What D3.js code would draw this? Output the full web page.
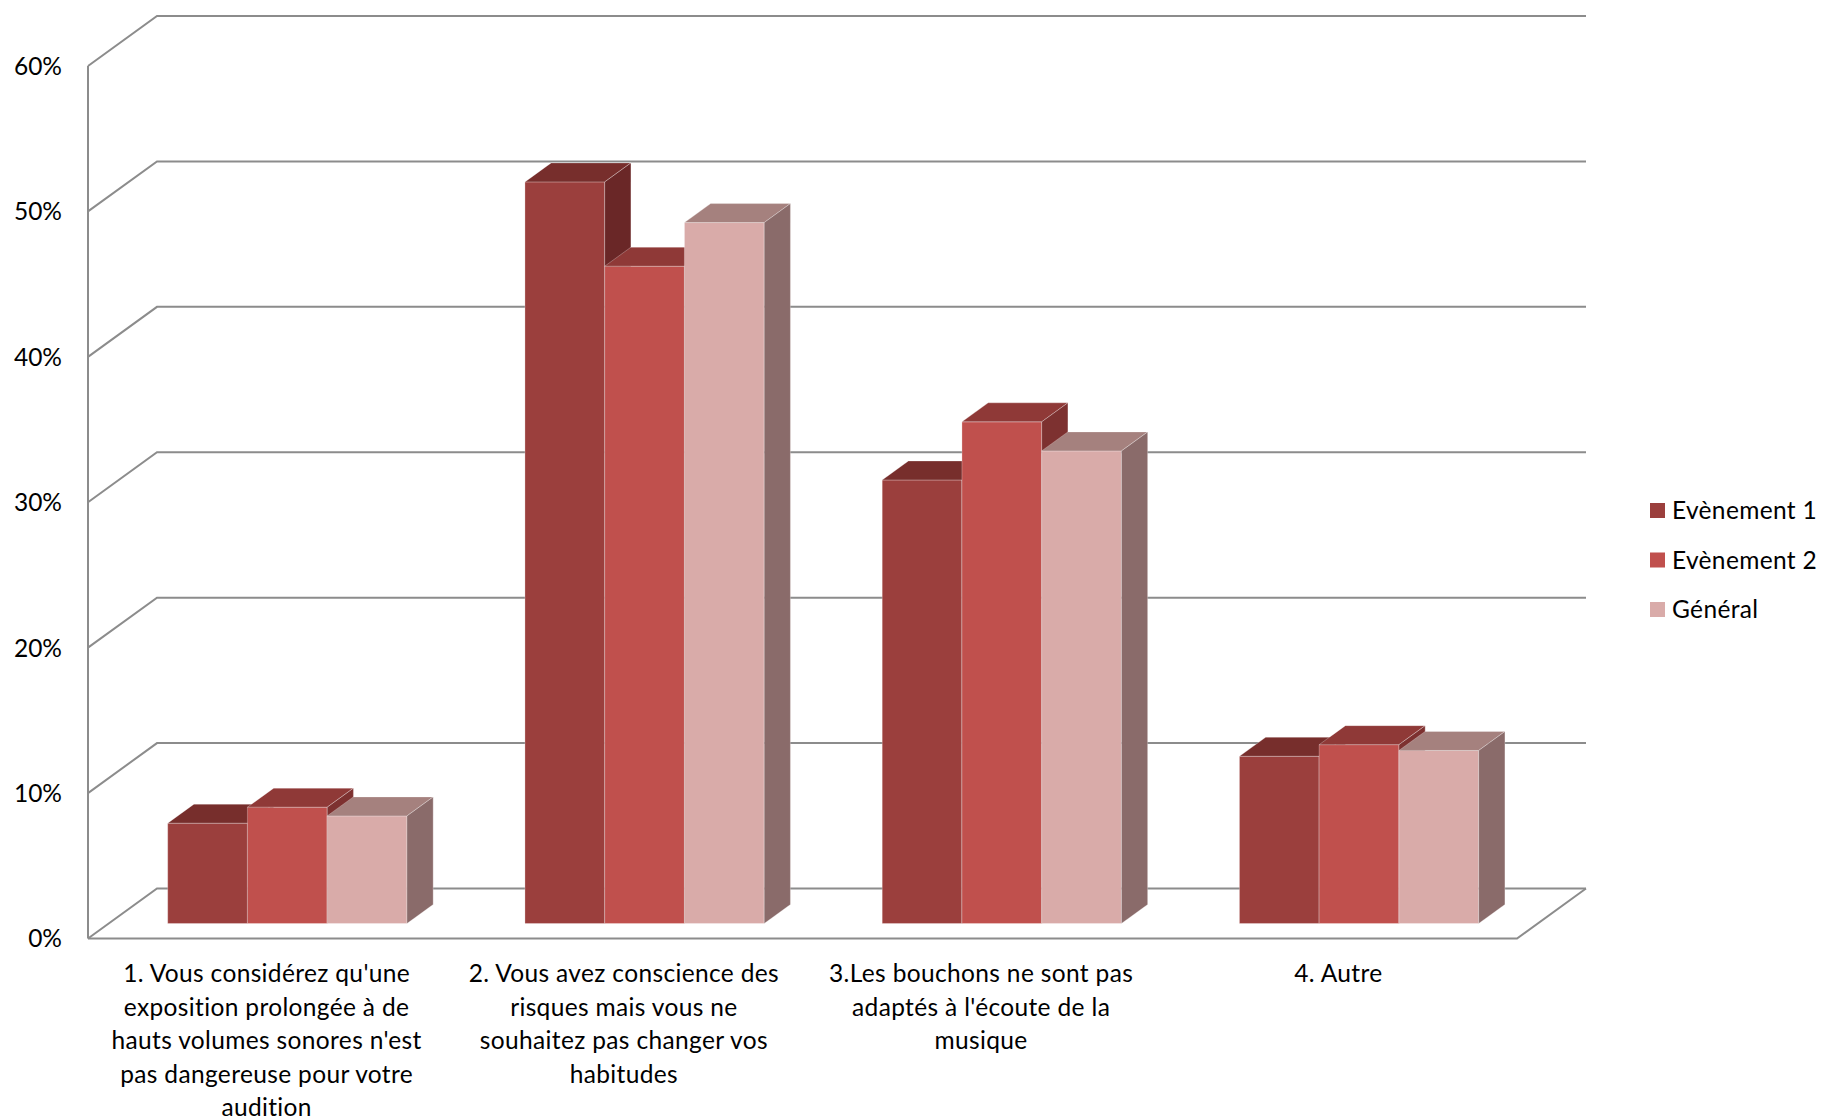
<!DOCTYPE html>
<html>
<head>
<meta charset="utf-8">
<script src="https://cdn.jsdelivr.net/npm/d3@7"></script>
<style>
  html, body { margin: 0; padding: 0; background: #fff; }
  svg { display: block; font-family: Lato, "Open Sans", sans-serif; }
</style>
</head>
<body>
<svg id="chart" width="1823" height="1120"></svg>
<script>
// Survey answers: share of respondents per reason, for each event and overall
const categories = ["c1", "c2", "c3", "c4"];
const categoryLabels = [
  ["1. Vous considérez qu'une", "exposition prolongée à de", "hauts volumes sonores n'est", "pas dangereuse pour votre", "audition"],
  ["2. Vous avez conscience des", "risques mais vous ne", "souhaitez pas changer vos", "habitudes"],
  ["3.Les bouchons ne sont pas", "adaptés à l'écoute de la", "musique"],
  ["4. Autre"]
];
const seriesNames = ["Evènement 1", "Evènement 2", "Général"];
const evenement1 = [0.069, 0.510, 0.305, 0.115];
const evenement2 = [0.080, 0.452, 0.345, 0.123];
const general    = [0.074, 0.482, 0.325, 0.119];
const yTicks = [0, 0.1, 0.2, 0.3, 0.4, 0.5, 0.6];

const seriesValues = [evenement1, evenement2, general];
const faceColors = [
  { front: "#9B3F3D", top: "#772E2C", side: "#6A2727" },
  { front: "#C0504D", top: "#8F3937", side: "#7D3130" },
  { front: "#D9ABA9", top: "#A5817E", side: "#8A6B6A" }
];

const fontSize = 24.5;
const letterSpacing = 0.35;

const svg = d3.select("#chart");

// Front plane of the 3D box and its depth offset
const plotLeft = 88, plotRight = 1517, plotTop = 66, plotBottom = 938.5;
const DX = 69, DY = -50;
const barFront = 0.30, barBack = 0.68;

const y = d3.scaleLinear().domain([0, 0.6]).range([plotBottom, plotTop]);
const x0 = d3.scaleBand().domain(categories).range([plotLeft, plotRight]).padding(0);
const groupGap = 118;
const x1 = d3.scaleBand().domain(seriesNames)
  .range([groupGap / 2, x0.bandwidth() - groupGap / 2]).padding(0);

const gridColor = "#8C8C8C";

// Back wall gridlines with their slanted left-wall segment
const grid = svg.append("g").attr("fill", "none").attr("stroke", gridColor).attr("stroke-width", 2);
yTicks.forEach(v => {
  const yy = y(v);
  grid.append("path")
    .attr("d", `M${plotLeft},${yy}L${plotLeft + DX},${yy + DY}L${plotRight + DX},${yy + DY}`);
});
// Floor: front edge and right edge
grid.append("path")
  .attr("d", `M${plotLeft},${y(0)}L${plotRight},${y(0)}L${plotRight + DX},${y(0) + DY}`);
// Vertical axis line
grid.append("path")
  .attr("d", `M${plotLeft},${y(0)}L${plotLeft},${y(0.6)}`);

// Tick labels
const yAxis = d3.axisLeft(y).tickValues(yTicks).tickFormat(d3.format(".0%")).tickSize(0).tickPadding(26);
const ag = svg.append("g").attr("transform", `translate(${plotLeft},0)`).call(yAxis);
ag.select(".domain").remove();
ag.selectAll("text")
  .attr("font-family", "Lato, 'Open Sans', sans-serif")
  .attr("font-size", fontSize).attr("fill", "#000").attr("dy", "0.34em");

// 3D bars: front face, top face, right side face
const bars = svg.append("g");
categories.forEach((c, ci) => {
  seriesNames.forEach((s, si) => {
    const v = seriesValues[si][ci];
    const fx = x0(c) + x1(s) + DX * barFront;
    const fy = DY * barFront;
    const w = x1.bandwidth();
    const yTop = y(v) + fy, yBase = y(0) + fy;
    const ddx = DX * (barBack - barFront), ddy = DY * (barBack - barFront);
    const col = faceColors[si];
    const g = bars.append("g").attr("stroke", "rgba(255,255,255,0.35)").attr("stroke-width", 0.8).attr("stroke-linejoin", "round");
    g.append("path").attr("fill", col.front)
      .attr("d", `M${fx},${yBase}L${fx + w},${yBase}L${fx + w},${yTop}L${fx},${yTop}Z`);
    g.append("path").attr("fill", col.top)
      .attr("d", `M${fx},${yTop}L${fx + w},${yTop}L${fx + w + ddx},${yTop + ddy}L${fx + ddx},${yTop + ddy}Z`);
    g.append("path").attr("fill", col.side)
      .attr("d", `M${fx + w},${yBase}L${fx + w + ddx},${yBase + ddy}L${fx + w + ddx},${yTop + ddy}L${fx + w},${yTop}Z`);
  });
});

// Category labels, centred on each band of the front plane
const cl = svg.append("g").attr("font-size", fontSize).attr("letter-spacing", letterSpacing)
  .attr("fill", "#000").attr("text-anchor", "middle");
categories.forEach((c, ci) => {
  const cx = x0(c) + x0.bandwidth() / 2;
  const t = cl.append("text").attr("x", cx).attr("y", 982);
  categoryLabels[ci].forEach((line, li) => {
    t.append("tspan").attr("x", cx).attr("dy", li === 0 ? 0 : 33.5).text(line);
  });
});

// Legend
const lg = svg.append("g").attr("transform", "translate(1650,503)");
seriesNames.forEach((s, i) => {
  const row = lg.append("g").attr("transform", `translate(0,${i * 49.5})`);
  row.append("rect").attr("width", 15).attr("height", 15).attr("fill", faceColors[i].front);
  row.append("text").attr("x", 22).attr("y", 7.5).attr("dy", "0.36em")
    .attr("font-size", fontSize).attr("letter-spacing", letterSpacing).attr("fill", "#000").text(s);
});
</script>
</body>
</html>
